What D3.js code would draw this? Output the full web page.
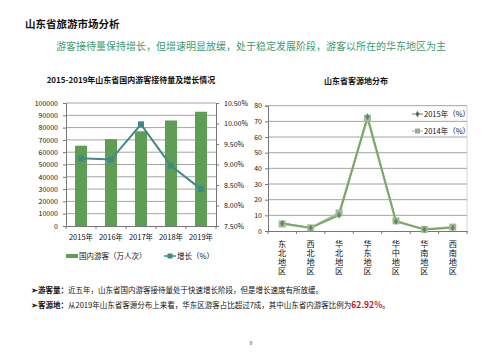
<!DOCTYPE html>
<html><head><meta charset="utf-8">
<script src="https://cdn.jsdelivr.net/npm/d3@7/dist/d3.min.js"></script>
<style>
body{margin:0;background:#fff;}
svg text{font-family:"Noto Sans CJK SC","Noto Sans",sans-serif;}
</style></head>
<body><svg id="c" width="503" height="356"></svg>
<script>
const years = ["2015年","2016年","2017年","2018年","2019年"];
const visitors = [65300, 70600, 77000, 85800, 92900];
const growth = [9.15, 9.12, 9.98, 8.97, 8.40];
const leftTicks = [0,10000,20000,30000,40000,50000,60000,70000,80000,90000,100000];
const rightTicks = [7.5,8.0,8.5,9.0,9.5,10.0,10.5];

const regions = ["东北地区","西北地区","华北地区","华东地区","华中地区","华南地区","西南地区"];
const src2015 = [5, 2, 10, 73, 6, 1, 2];
const src2014 = [4.5, 2, 11.5, 72, 6.5, 1, 2.5];
const srcTicks = [0,10,20,30,40,50,60,70,80];

const svg = d3.select("#c");
const font = '"Noto Sans CJK SC","Noto Sans",sans-serif';

// Header
svg.append("text").attr("x",25).attr("y",28).attr("font-size",10.5).attr("font-weight","bold").attr("fill","#111").text("山东省旅游市场分析");
svg.append("text").attr("x",251).attr("y",50).attr("text-anchor","middle").attr("font-size",10).attr("fill","#3f9a73").text("游客接待量保持增长，但增速明显放缓，处于稳定发展阶段，游客以所在的华东地区为主");

// ---------- Left chart ----------
const L = {x0:66, x1:216, y0:226, y1:103};
const x = d3.scaleBand().domain(years).range([L.x0,L.x1]).paddingInner(0.6).paddingOuter(0.3);
const xo = d3.scaleBand().domain(years).range([L.x0,L.x1]);
const y = d3.scaleLinear().domain([0,100000]).range([L.y0,L.y1]);
const y2 = d3.scaleLinear().domain([7.5,10.5]).range([L.y0,L.y1]);

svg.append("text").attr("x",131).attr("y",83).attr("text-anchor","middle").attr("font-size",8).attr("font-weight","bold").attr("fill","#111").text("2015-2019年山东省国内游客接待量及增长情况");

const gl = svg.append("g");
gl.selectAll("line.g").data(leftTicks.slice(1)).join("line")
  .attr("x1",L.x0).attr("x2",L.x1).attr("y1",d=>y(d)).attr("y2",d=>y(d))
  .attr("stroke","#8c8c8c").attr("stroke-width",0.8);

gl.selectAll("rect").data(visitors).join("rect")
  .attr("x",(d,i)=>x(years[i])).attr("width",x.bandwidth())
  .attr("y",d=>y(d)).attr("height",d=>L.y0-y(d)).attr("fill","#5f9d55");

const la = gl.append("g").attr("transform",`translate(${L.x0},0)`)
  .call(d3.axisLeft(y).tickValues(leftTicks).tickSize(3).tickFormat(d3.format("d")));
la.select(".domain").attr("stroke","#777");
la.selectAll("line").attr("stroke","#777");
la.selectAll("text").attr("font-size",7).attr("font-family",font).attr("fill","#111").attr("dx",-2);

const ra = gl.append("g").attr("transform",`translate(${L.x1},0)`)
  .call(d3.axisRight(y2).tickValues(rightTicks).tickSize(3).tickFormat(d=>d.toFixed(2)+"%"));
ra.select(".domain").attr("stroke","#777");
ra.selectAll("line").attr("stroke","#777");
ra.selectAll("text").attr("font-size",7).attr("font-family",font).attr("fill","#111").attr("dx",2);

const ba = gl.append("g").attr("transform",`translate(0,${L.y0})`)
  .call(d3.axisBottom(xo).tickSize(0).tickPadding(9));
ba.select(".domain").attr("stroke","#777");
ba.selectAll("text").attr("font-size",7.5).attr("font-family",font).attr("fill","#111");
gl.selectAll("line.tk").data(d3.range(6)).join("line").attr("class","tk")
  .attr("x1",i=>L.x0+i*xo.step()).attr("x2",i=>L.x0+i*xo.step())
  .attr("y1",L.y0).attr("y2",L.y0+3).attr("stroke","#777");

const line1 = d3.line().x((d,i)=>xo(years[i])+xo.bandwidth()/2).y(d=>y2(d));
gl.append("path").datum(growth).attr("d",line1).attr("fill","none").attr("stroke","#3f8a84").attr("stroke-width",2);
gl.selectAll("rect.m").data(growth).join("rect").attr("class","m")
  .attr("x",(d,i)=>xo(years[i])+xo.bandwidth()/2-3).attr("y",d=>y2(d)-3)
  .attr("width",6).attr("height",6).attr("fill","#3f8a84");

// legend left
svg.append("rect").attr("x",66).attr("y",254).attr("width",12).attr("height",4).attr("fill","#5f9d55");
svg.append("text").attr("x",79).attr("y",259).attr("font-size",7.5).attr("fill","#111").text("国内游客（万人次）");
svg.append("line").attr("x1",164).attr("x2",176).attr("y1",256).attr("y2",256).attr("stroke","#3f8a84").attr("stroke-width",1.5);
svg.append("rect").attr("x",167.5).attr("y",253.5).attr("width",5).attr("height",5).attr("fill","#3f8a84");
svg.append("text").attr("x",177).attr("y",259).attr("font-size",7.5).attr("fill","#111").text("增长（%）");

// ---------- Right chart ----------
const R = {x0:268, x1:467, y0:231, y1:105.7};
const rx = d3.scaleBand().domain(regions).range([R.x0,R.x1]);
const ry = d3.scaleLinear().domain([0,80]).range([R.y0,R.y1]);

svg.append("text").attr("x",356).attr("y",84).attr("text-anchor","middle").attr("font-size",8).attr("font-weight","bold").attr("fill","#111").text("山东省客源地分布");

const gr = svg.append("g");
gr.selectAll("line.g").data(srcTicks.slice(1)).join("line")
  .attr("x1",R.x0).attr("x2",R.x1).attr("y1",d=>ry(d)).attr("y2",d=>ry(d))
  .attr("stroke","#8c8c8c").attr("stroke-width",0.8);
gr.append("line").attr("x1",R.x1).attr("x2",R.x1).attr("y1",R.y1).attr("y2",R.y0).attr("stroke","#bbb").attr("stroke-width",0.6);

const rya = gr.append("g").attr("transform",`translate(${R.x0},0)`)
  .call(d3.axisLeft(ry).tickValues(srcTicks).tickSize(3));
rya.select(".domain").attr("stroke","#777");
rya.selectAll("line").attr("stroke","#777");
rya.selectAll("text").attr("font-size",7).attr("font-family",font).attr("fill","#111");

const rxa = gr.append("g").attr("transform",`translate(0,${R.y0})`)
  .call(d3.axisBottom(rx).tickSize(0).tickFormat(""));
rxa.select(".domain").attr("stroke","#777");
gr.selectAll("line.tk").data(d3.range(8)).join("line").attr("class","tk")
  .attr("x1",i=>R.x0+i*rx.step()).attr("x2",i=>R.x0+i*rx.step())
  .attr("y1",R.y0).attr("y2",R.y0+3).attr("stroke","#777");
gr.selectAll("text.cat").data(regions).join("text").attr("class","cat")
  .attr("x",r=>rx(r)+rx.bandwidth()/2).attr("y",R.y0+9)
  .style("writing-mode","vertical-rl").style("text-orientation","upright")
  .attr("font-size",8.2).attr("letter-spacing",0.6).attr("fill","#111")
  .text(r=>r);

const line2 = d3.line().x((d,i)=>rx(regions[i])+rx.bandwidth()/2).y(d=>ry(d));
gr.append("path").datum(src2014).attr("d",line2).attr("fill","none").attr("stroke","#a3bf96").attr("stroke-width",2.2);
gr.append("path").datum(src2015).attr("d",line2).attr("fill","none").attr("stroke","#7aa76a").attr("stroke-width",1.8);
gr.selectAll("rect.m").data(src2014).join("rect").attr("class","m")
  .attr("x",(d,i)=>rx(regions[i])+rx.bandwidth()/2-3.5).attr("y",d=>ry(d)-3.5)
  .attr("width",7).attr("height",7).attr("fill","#a3b89a");
gr.selectAll("path.d").data(src2015).join("path").attr("class","d")
  .attr("transform",(d,i)=>`translate(${rx(regions[i])+rx.bandwidth()/2},${ry(d)})`)
  .attr("d",d3.symbol(d3.symbolDiamond,14)).attr("fill","#5e8a58");

// legend right
svg.append("line").attr("x1",412).attr("x2",423).attr("y1",114).attr("y2",114).attr("stroke","#777").attr("stroke-width",1);
svg.append("path").attr("transform","translate(417.5,114)").attr("d",d3.symbol(d3.symbolDiamond,12)).attr("fill","#4d6b4d");
svg.append("text").attr("x",424).attr("y",117).attr("font-size",7.5).attr("fill","#111").text("2015年（%）");
svg.append("line").attr("x1",412).attr("x2",423).attr("y1",131).attr("y2",131).attr("stroke","#aaa").attr("stroke-width",1);
svg.append("rect").attr("x",415).attr("y",128.5).attr("width",5).attr("height",5).attr("fill","#a3a3a3");
svg.append("text").attr("x",424).attr("y",134).attr("font-size",7.5).attr("fill","#111").text("2014年（%）");

// bottom notes
const n1 = svg.append("text").attr("x",31).attr("y",293).attr("font-size",7.5).attr("fill","#111");
n1.append("tspan").attr("font-weight","bold").text("➢游客量：");
n1.append("tspan").text("近五年，山东省国内游客接待量处于快速增长阶段，但是增长速度有所放缓。");
const n2 = svg.append("text").attr("x",31).attr("y",308).attr("font-size",7.5).attr("fill","#111");
n2.append("tspan").attr("font-weight","bold").text("➢客源地：");
n2.append("tspan").text("从2019年山东省客源分布上来看，华东区游客占比超过7成，其中山东省内游客比例为");
n2.append("tspan").attr("fill","#d0121b").attr("font-weight","bold").attr("font-size",8.5).text("62.92%");
n2.append("tspan").text("。");

svg.append("text").attr("x",251).attr("y",345).attr("text-anchor","middle").attr("font-size",5).attr("fill","#333").text("0");
</script></body></html>
